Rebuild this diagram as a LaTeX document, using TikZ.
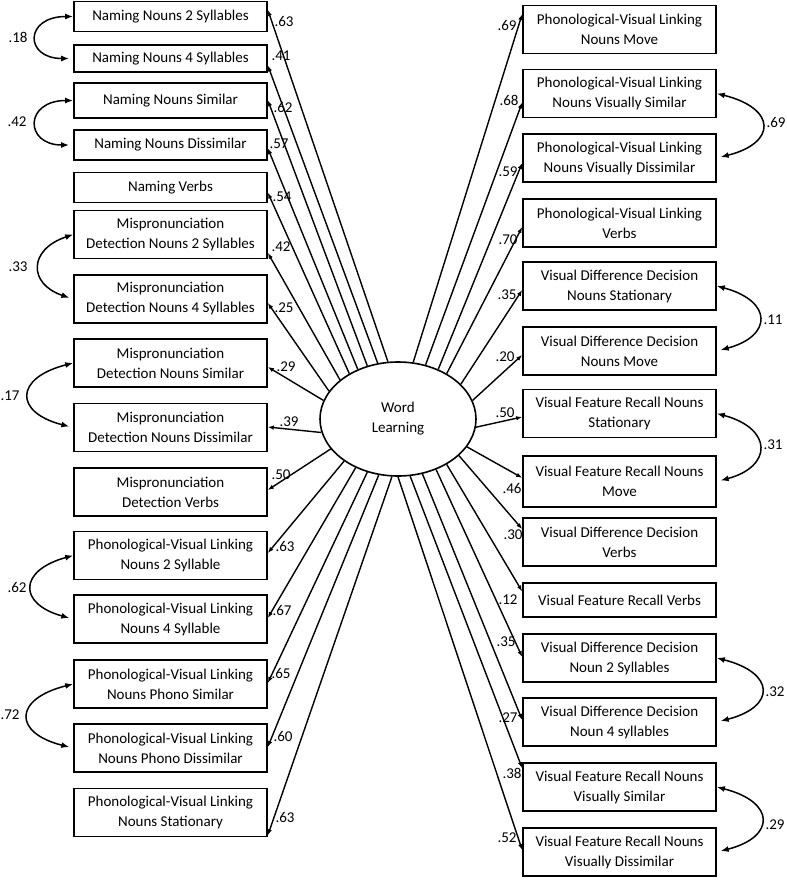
\documentclass[tikz,border=0pt]{standalone}
\usepackage{fontspec}
\setmainfont{Carlito}
\usetikzlibrary{arrows.meta,calc,shapes.geometric}

\tikzset{
  ind/.style={draw, line width=1.6pt, minimum width=193pt, minimum height=48pt, inner sep=0pt, align=center},
  ind1/.style={ind, minimum height=30pt},
  lat/.style={draw, ellipse, line width=1.6pt, minimum width=156pt, minimum height=114pt, align=center},
  load/.style={-{Latex[length=6pt,width=4.5pt]}, line width=1.4pt},
  cov/.style={{Latex[length=8pt,width=6pt]}-{Latex[length=8pt,width=6pt]}, line width=1.5pt, shorten >=4pt},
  wt/.style={inner sep=0pt},
}

\begin{document}
\begin{tikzpicture}[x=1pt, y=-1pt, font=\fontsize{15}{20}\selectfont]
\useasboundingbox (0,0) rectangle (787,881);

% latent factor
\node[lat] (wl) at (398,419) {Word\\Learning};

% left indicators
\node[ind1] (L1) at (170.5,16.5) {Naming Nouns 2 Syllables};
\node[ind1, minimum height=27pt] (L2) at (170.5,58.5) {Naming Nouns 4 Syllables};
\node[ind1, minimum height=35pt] (L3) at (170.5,100.5) {Naming Nouns Similar};
\node[ind1] (L4) at (170.5,145) {Naming Nouns Dissimilar};
\node[ind1] (L5) at (170.5,187.5) {Naming Verbs};
\node[ind] (L6) at (170.5,234.5) {Mispronunciation\\Detection Nouns 2 Syllables};
\node[ind] (L7) at (170.5,299) {Mispronunciation\\Detection Nouns 4 Syllables};
\node[ind] (L8) at (170.5,363) {Mispronunciation\\Detection Nouns Similar};
\node[ind] (L9) at (170.5,427.5) {Mispronunciation\\Detection Nouns Dissimilar};
\node[ind] (L10) at (170.5,492) {Mispronunciation\\Detection Verbs};
\node[ind] (L11) at (170.5,555.5) {Phonological-Visual Linking\\Nouns 2 Syllable};
\node[ind] (L12) at (170.5,619) {Phonological-Visual Linking\\Nouns 4 Syllable};
\node[ind] (L13) at (170.5,684) {Phonological-Visual Linking\\Nouns Phono Similar};
\node[ind] (L14) at (170.5,748) {Phonological-Visual Linking\\Nouns Phono Dissimilar};
\node[ind] (L15) at (170.5,812.5) {Phonological-Visual Linking\\Nouns Stationary};

% right indicators
\node[ind] (R1) at (619.5,29.5) {Phonological-Visual Linking\\Nouns Move};
\node[ind] (R2) at (619.5,93.5) {Phonological-Visual Linking\\Nouns Visually Similar};
\node[ind] (R3) at (619.5,158) {Phonological-Visual Linking\\Nouns Visually Dissimilar};
\node[ind] (R4) at (619.5,223) {Phonological-Visual Linking\\Verbs};
\node[ind] (R5) at (619.5,286) {Visual Difference Decision\\Nouns Stationary};
\node[ind] (R6) at (619.5,351) {Visual Difference Decision\\Nouns Move};
\node[ind] (R7) at (619.5,413.5) {Visual Feature Recall Nouns\\Stationary};
\node[ind, minimum height=51pt] (R8) at (619.5,481.5) {Visual Feature Recall Nouns\\Move};
\node[ind] (R9) at (619.5,542) {Visual Difference Decision\\Verbs};
\node[ind1, minimum height=34pt] (R10) at (619.5,600) {Visual Feature Recall Verbs};
\node[ind] (R11) at (619.5,658) {Visual Difference Decision\\Noun 2 Syllables};
\node[ind] (R12) at (619.5,722) {Visual Difference Decision\\Noun 4 syllables};
\node[ind] (R13) at (619.5,787) {Visual Feature Recall Nouns\\Visually Similar};
\node[ind] (R14) at (619.5,852) {Visual Feature Recall Nouns\\Visually Dissimilar};

% loadings, left
\draw[load] (wl.100) -- ($(L1.north east)!.29!(L1.south east)$);
\draw[load] (wl.110) -- ($(L2.north east)!.74!(L2.south east)$);
\draw[load] (wl.120) -- ($(L3.north east)!.49!(L3.south east)$);
\draw[load] (wl.129) -- ($(L4.north east)!.6!(L4.south east)$);
\draw[load] (wl.137) -- ($(L5.north east)!.66!(L5.south east)$);
\draw[load] (wl.146) -- ($(L6.north east)!.87!(L6.south east)$);
\draw[load] (wl.158) -- ($(L7.north east)!.58!(L7.south east)$);
\draw[load] (wl.166) -- ($(L8.north east)!.58!(L8.south east)$);
\draw[load] (wl.190) -- ($(L9.north east)!.49!(L9.south east)$);
\draw[load] (wl.204) -- ($(L10.north east)!.46!(L10.south east)$);
\draw[load] (wl.218) -- ($(L11.north east)!.45!(L11.south east)$);
\draw[load] (wl.229) -- ($(L12.north east)!.48!(L12.south east)$);
\draw[load] (wl.240) -- ($(L13.north east)!.48!(L13.south east)$);
\draw[load] (wl.251) -- ($(L14.north east)!.48!(L14.south east)$);
\draw[load] (wl.264) -- ($(L15.north east)!.96!(L15.south east)$);

% loadings, right
\draw[load] (wl.75) -- ($(R1.north west)!.19!(R1.south west)$);
\draw[load] (wl.63) -- ($(R2.north west)!.68!(R2.south west)$);
\draw[load] (wl.51) -- ($(R3.north west)!.6!(R3.south west)$);
\draw[load] (wl.43) -- ($(R4.north west)!.58!(R4.south west)$);
\draw[load] (wl.29) -- ($(R5.north west)!.58!(R5.south west)$);
\draw[load] (wl.14) -- ($(R6.north west)!.58!(R6.south west)$);
\draw[load] (wl.354) -- ($(R7.north west)!.57!(R7.south west)$);
\draw[load] (wl.338) -- ($(R8.north west)!.43!(R8.south west)$);
\draw[load] (wl.329) -- ($(R9.north west)!.24!(R9.south west)$);
\draw[load] (wl.317) -- ($(R10.north west)!.26!(R10.south west)$);
\draw[load] (wl.307) -- ($(R11.north west)!.48!(R11.south west)$);
\draw[load] (wl.294) -- ($(R12.north west)!.46!(R12.south west)$);
\draw[load] (wl.282) -- ($(R13.north west)!.12!(R13.south west)$);
\draw[load] (wl.270) -- ($(R14.north west)!.46!(R14.south west)$);

% loading values
\node[wt] (wL1) at (284,21) {.63};
\node[wt] (wL2) at (281,56) {.41};
\node[wt] (wL3) at (283,107) {.62};
\node[wt] (wL4) at (279,144) {.57};
\node[wt] (wL5) at (282,197) {.54};
\node[wt] (wL6) at (281,247) {.42};
\node[wt] (wL7) at (284,308) {.25};
\node[wt] (wL8) at (286,367) {.29};
\node[wt] (wL9) at (289,422) {.39};
\node[wt] (wL10) at (281,475) {.50};
\node[wt] (wL11) at (285,546) {.63};
\node[wt] (wL12) at (282,610) {.67};
\node[wt] (wL13) at (281,673) {.65};
\node[wt] (wL14) at (283,736) {.60};
\node[wt] (wL15) at (285,817) {.63};
\node[wt] (wR1) at (507,25) {.69};
\node[wt] (wR2) at (509,100) {.68};
\node[wt] (wR3) at (508,172) {.59};
\node[wt] (wR4) at (508,240) {.70};
\node[wt] (wR5) at (507,295) {.35};
\node[wt] (wR6) at (505,357) {.20};
\node[wt] (wR7) at (505,413) {.50};
\node[wt] (wR8) at (512,488) {.46};
\node[wt] (wR9) at (513,535) {.30};
\node[wt] (wR10) at (508,600) {.12};
\node[wt] (wR11) at (506,642) {.35};
\node[wt] (wR12) at (508,718) {.27};
\node[wt] (wR13) at (512,773) {.38};
\node[wt] (wR14) at (507,838) {.52};

% error covariances
\draw[cov] (L1.west) .. controls +(-49,0) and +(-49,0) .. (L2.west);
\draw[cov] (L3.west) .. controls +(-49,0) and +(-49,0) .. (L4.west);
\draw[cov] (L6.west) .. controls +(-45,15) and +(-45,-15) .. (L7.west);
\draw[cov] (L8.west) .. controls +(-59,15) and +(-59,-15) .. (L9.west);
\draw[cov] (L11.west) .. controls +(-55,15) and +(-55,-15) .. (L12.west);
\draw[cov] (L13.west) .. controls +(-60,15) and +(-60,-15) .. (L14.west);
\draw[cov] (R2.east) .. controls +(60,15) and +(60,-15) .. (R3.east);
\draw[cov] (R5.east) .. controls +(56,15) and +(56,-15) .. (R6.east);
\draw[cov] (R7.east) .. controls +(56,15) and +(56,-15) .. (R8.east);
\draw[cov] (R11.east) .. controls +(59,15) and +(59,-15) .. (R12.east);
\draw[cov] (R13.east) .. controls +(59,15) and +(59,-15) .. (R14.east);

\node (c18) at (18,37) {.18};
\node (c42) at (17,122) {.42};
\node (c33) at (18,267) {.33};
\node (c17) at (10,396) {.17};
\node (c62) at (17,587) {.62};
\node (c72) at (10,715) {.72};
\node (c69) at (776,122) {.69};
\node (c11) at (773,320) {.11};
\node (c31) at (773,445) {.31};
\node (c32) at (775,692) {.32};
\node (c29) at (775,825) {.29};
\end{tikzpicture}
\end{document}
